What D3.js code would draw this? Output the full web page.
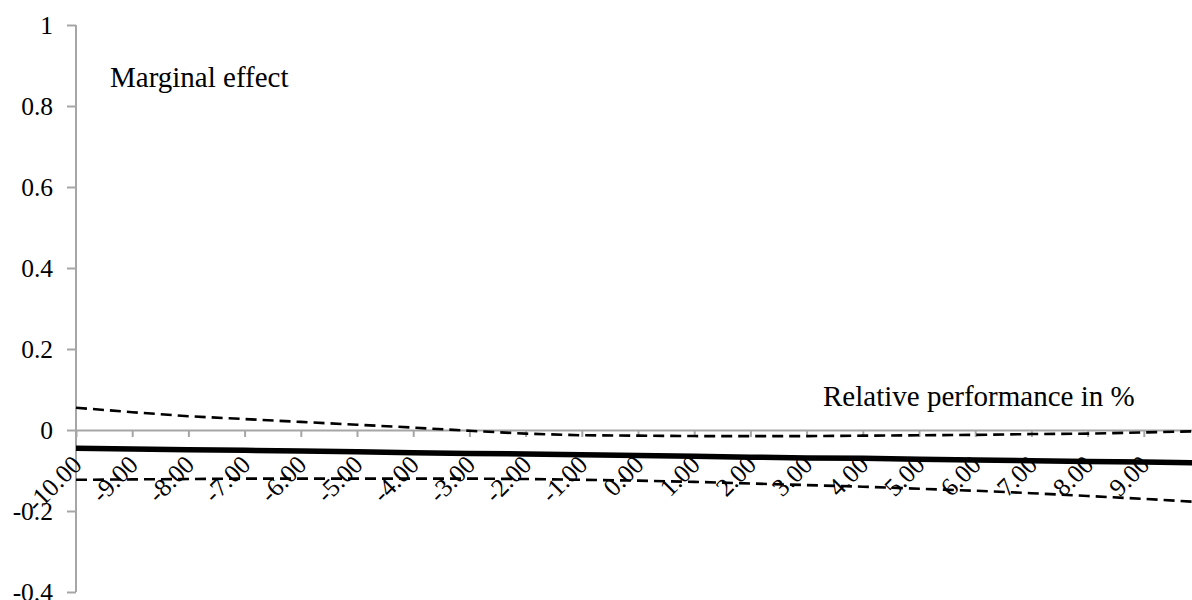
<!DOCTYPE html>
<html>
<head>
<meta charset="utf-8">
<script src="https://cdn.jsdelivr.net/npm/d3@7"></script>
<style>
  html, body { margin: 0; padding: 0; background: #fff; }
  svg { display: block; }
</style>
</head>
<body>
<svg id="chart" width="1192" height="600" font-family="Liberation Serif"></svg>
<script>
// Relative performance categories (in %)
const categories = [-10, -9, -8, -7, -6, -5, -4, -3, -2, -1, 0, 1, 2, 3, 4, 5, 6, 7, 8, 9, 10];
const tickLabels = ["-10.00", "-9.00", "-8.00", "-7.00", "-6.00", "-5.00", "-4.00", "-3.00", "-2.00", "-1.00",
                    "0.00", "1.00", "2.00", "3.00", "4.00", "5.00", "6.00", "7.00", "8.00", "9.00"];

// Marginal effect and its confidence band
const marginalEffect = [-0.045, -0.047, -0.049, -0.050, -0.052, -0.054, -0.056, -0.058, -0.059, -0.061, -0.063,
                        -0.065, -0.067, -0.069, -0.070, -0.072, -0.074, -0.076, -0.078, -0.079, -0.081];
const upperBound = [0.055, 0.044, 0.034, 0.027, 0.020, 0.013, 0.006, -0.002, -0.009, -0.013, -0.014,
                    -0.015, -0.015, -0.015, -0.014, -0.013, -0.012, -0.010, -0.009, -0.006, -0.003];
const lowerBound = [-0.123, -0.122, -0.121, -0.120, -0.120, -0.120, -0.120, -0.120, -0.121, -0.123, -0.125,
                    -0.128, -0.132, -0.136, -0.140, -0.145, -0.150, -0.156, -0.163, -0.170, -0.178];

const yTicks = [-0.4, -0.2, 0, 0.2, 0.4, 0.6, 0.8, 1];
const yTickLabels = ["-0.4", "-0.2", "0", "0.2", "0.4", "0.6", "0.8", "1"];

const svg = d3.select("#chart");
const axisColor = "#a6a6a6";
const fontName = "Liberation Serif";

const x = d3.scalePoint().domain(categories).range([76, 1200]);
const y = d3.scaleLinear().domain([-0.4, 1]).range([592, 25]);

// Vertical axis
const yAxis = svg.append("g")
  .attr("transform", "translate(76,0)")
  .call(d3.axisLeft(y).tickValues(yTicks).tickSize(9).tickPadding(14)
        .tickFormat((d, i) => yTickLabels[i]));
yAxis.attr("font-family", fontName).attr("font-size", 25.5);
yAxis.select(".domain").attr("stroke", axisColor).attr("stroke-width", 2).attr("d", `M0,${y(1)}V${y(-0.4)}`);
yAxis.selectAll(".tick line").attr("stroke", axisColor).attr("stroke-width", 2);
yAxis.selectAll(".tick text").attr("font-family", fontName).attr("fill", "#000");

// Horizontal axis at zero
const xAxis = svg.append("g")
  .attr("transform", `translate(0,${y(0)})`)
  .call(d3.axisBottom(x).tickSize(7).tickSizeOuter(0).tickFormat(""));
xAxis.attr("font-family", fontName);
xAxis.select(".domain").attr("stroke", axisColor).attr("stroke-width", 2);
xAxis.selectAll(".tick line").attr("stroke", axisColor).attr("stroke-width", 2);

// Rotated category labels
svg.append("g").attr("font-family", fontName).selectAll("text")
  .data(tickLabels)
  .join("text")
  .attr("transform", (d, i) => `translate(${x(categories[i]) + 1},${y(0) + 30}) rotate(-45)`)
  .attr("text-anchor", "end")
  .attr("dy", "0.35em")
  .attr("font-family", fontName)
  .attr("font-size", 25.5)
  .attr("fill", "#000")
  .text(d => d);

const line = d3.line()
  .x((d, i) => x(categories[i]))
  .y(d => y(d));

svg.append("path").datum(upperBound)
  .attr("fill", "none").attr("stroke", "#000").attr("stroke-width", 2.6)
  .attr("stroke-dasharray", "11,6").attr("d", line);

svg.append("path").datum(lowerBound)
  .attr("fill", "none").attr("stroke", "#000").attr("stroke-width", 2.6)
  .attr("stroke-dasharray", "11,6").attr("d", line);

svg.append("path").datum(marginalEffect)
  .attr("fill", "none").attr("stroke", "#000").attr("stroke-width", 5.5)
  .attr("d", line);

// Axis titles
svg.append("text").attr("x", 110).attr("y", 87)
  .attr("font-family", fontName).attr("font-size", 29).attr("fill", "#000")
  .text("Marginal effect");
svg.append("text").attr("x", 823).attr("y", 406)
  .attr("font-family", fontName).attr("font-size", 29).attr("fill", "#000")
  .text("Relative performance in %");
</script>
</body>
</html>
